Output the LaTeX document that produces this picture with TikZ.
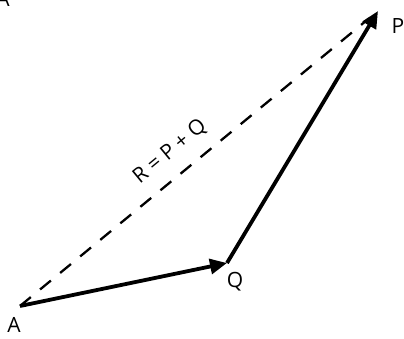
\documentclass[tikz,border=0pt]{standalone}
\usepackage{fontspec}
\setmainfont{Open Sans}
\usetikzlibrary{arrows.meta,calc}
\begin{document}
\begin{tikzpicture}[x=1pt,y=-1pt,
  vec/.style={line width=3.8pt,-{Triangle[length=17pt,width=15pt]}},
  res/.style={line width=2.3pt,dash pattern=on 14pt off 12pt},
  lbl/.style={font=\fontsize{21}{22}\selectfont}]
\useasboundingbox (0,0) rectangle (404,338);
\coordinate (A) at (20,306);
\coordinate (Q) at (227,263);
\coordinate (P) at (378,11);
\draw[res] (A) -- ($(A)!0.975!(P)$);
\draw[vec] (A) -- (Q);
\draw[vec] (Q) -- (P);
\node[lbl] (la) at (14,325) {A};
\node[lbl] (lq) at (235,282) {Q};
\node[lbl] (lp) at (398,26) {P};
\node[lbl] (ltop) at (3,-1) {A};
\node[lbl,rotate=39.5] (lr) at (170,152) {R = P + Q};
\end{tikzpicture}
\end{document}
